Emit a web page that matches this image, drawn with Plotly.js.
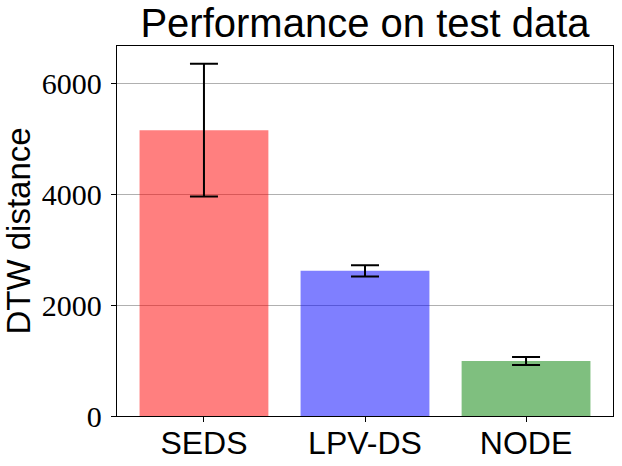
<!DOCTYPE html>
<html>
<head>
<meta charset="utf-8">
<script src="https://cdn.plot.ly/plotly-3.0.1.min.js"></script>
<style>html,body{margin:0;padding:0;background:#fff;}#chart{width:622px;height:466px;}</style>
</head>
<body>
<div id="chart"></div>
<script>
const categories = ["SEDS", "LPV-DS", "NODE"];
const meanValues = [5150, 2615, 990];
const errorValues = [1195, 100, 72];
const barColors = ["rgba(255,0,0,0.5)", "rgba(0,0,255,0.5)", "rgba(0,128,0,0.5)"];
const yTickValues = [0, 2000, 4000, 6000];
const yTickLabels = ["0", "2000", "4000", "6000"];

const trace = {
  type: "bar",
  x: categories,
  y: meanValues,
  width: 0.8,
  marker: {color: barColors, line: {width: 0}},
  error_y: {type: "data", array: errorValues, visible: true, color: "#000", thickness: 2, width: 14}
};

const layout = {
  width: 622, height: 466,
  margin: {l: 117, r: 9, t: 46, b: 50, pad: 0},
  paper_bgcolor: "#fff", plot_bgcolor: "#fff",
  showlegend: false,
  title: {
    text: "Performance on test data",
    font: {family: "Liberation Sans, Arial, sans-serif", size: 40, color: "#000"},
    x: 0.5, xref: "paper", xanchor: "center",
    y: 1 - 23/466, yref: "container", yanchor: "middle"
  },
  xaxis: {
    type: "category",
    range: [-0.54, 2.54],
    showgrid: false, zeroline: false,
    showline: true, linecolor: "#000", linewidth: 1.3, mirror: true,
    ticks: "outside", ticklen: 5, tickwidth: 1, tickcolor: "#000",
    ticklabelstandoff: -7,
    tickfont: {family: "Liberation Sans, Arial, sans-serif", size: 32, color: "#000"}
  },
  yaxis: {
    range: [0, 6667],
    tickvals: yTickValues, ticktext: yTickLabels,
    showgrid: true, gridcolor: "#b0b0b0", gridwidth: 1,
    zeroline: false,
    showline: true, linecolor: "#000", linewidth: 1.3, mirror: true,
    ticks: "outside", ticklen: 5, tickwidth: 1, tickcolor: "#000",
    ticklabelstandoff: 3,
    tickfont: {family: "Liberation Serif, Times New Roman, serif", size: 30, color: "#000"},
    title: {text: "DTW distance", standoff: 7,
      font: {family: "Liberation Sans, Arial, sans-serif", size: 33, color: "#000"}},
    automargin: false
  },
  bargap: 0.2
};

Plotly.newPlot("chart", [trace], layout, {staticPlot: true, displayModeBar: false});
</script>
</body>
</html>
